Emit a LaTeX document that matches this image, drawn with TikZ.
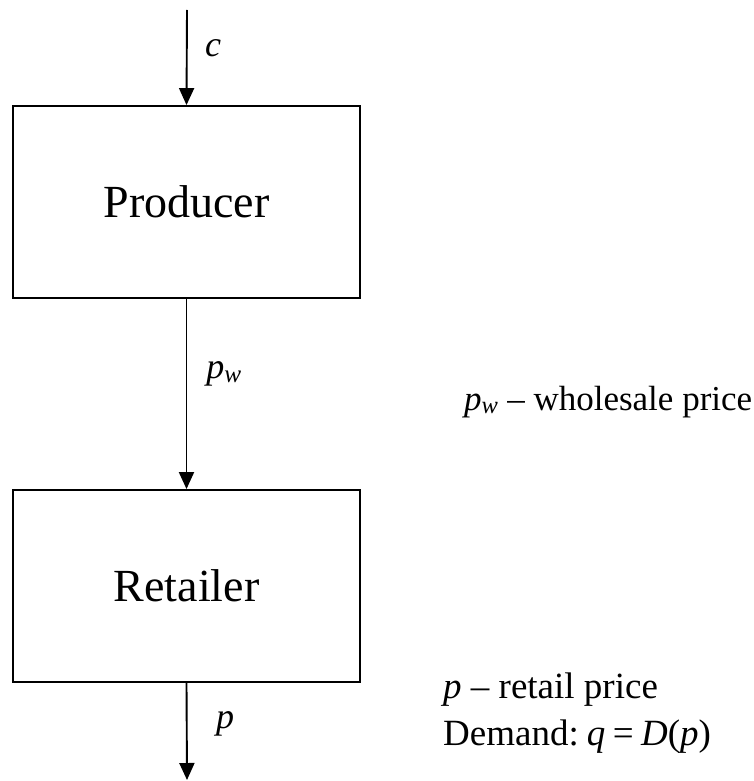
\documentclass[tikz,border=0pt]{standalone}
\usepackage{fontspec}
\setmainfont{Liberation Serif}
\usetikzlibrary{arrows.meta}
\begin{document}
\begin{tikzpicture}[x=1pt,y=-1pt,
  stagebox/.style={draw,line width=1.9pt,minimum width=347pt,minimum height=192pt,inner sep=0pt,font=\fontsize{46}{52}\selectfont},
  flow/.style={line width=1.9pt,-{Triangle[width=15pt,length=17pt]}},
  lbl/.style={inner sep=0pt,font=\fontsize{36}{42}\selectfont},
  note/.style={inner sep=0pt,anchor=base west,font=\fontsize{37}{44}\selectfont}]
\useasboundingbox (0,0) rectangle (754,781);
\node[stagebox] (prod) at (186.5,202) {Producer};
\node[stagebox] (ret) at (186.5,586) {Retailer};
\coordinate (top) at (187,10);
\coordinate (bot) at (187,780);
\draw[flow] (top) -- (prod.north);
\draw[flow] (prod.south) -- (ret.north);
\draw[flow] (ret.south) -- (bot);
\node[lbl] (lc) at (213,48) {\textit{c}};
\node[lbl] (lpw) at (224,374) {\textit{p}\textsubscript{\textit{w}}};
\node[lbl] (lp) at (225,724) {\textit{p}};
\node[note,font=\fontsize{35}{42}\selectfont] (n1) at (464,410) {\textit{p}\textsubscript{\textit{w}} – wholesale price};
\node[note] (n2) at (443,698) {\textit{p} – retail price};
\node[note] (n3) at (443,745) {Demand:\hspace{0.22em}\textit{q}\hspace{0.2em}=\hspace{0.2em}\textit{D}(\textit{p})};
\end{tikzpicture}
\end{document}
